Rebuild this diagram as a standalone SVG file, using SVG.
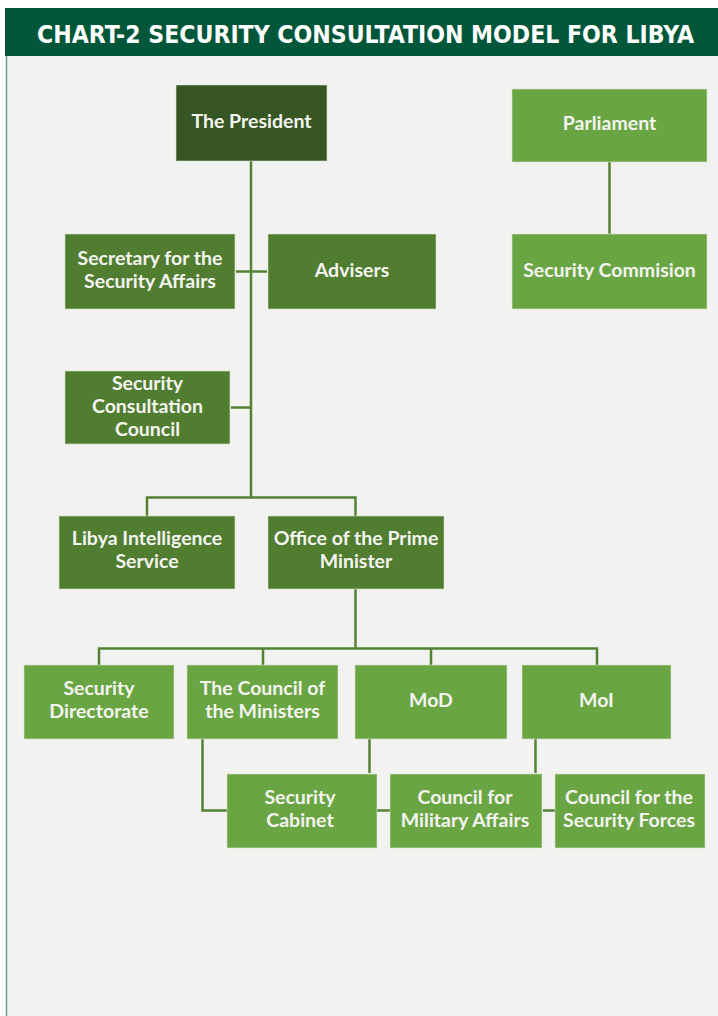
<svg xmlns="http://www.w3.org/2000/svg" width="718" height="1016" viewBox="0 0 718 1016">
<style>
.n rect{stroke:#d9e6d0;stroke-width:1;stroke-opacity:0.6}
.d{fill:#375623}
.m{fill:#517d31}
.l{fill:#6aa543}
.t{font-family:Lato,"Open Sans",sans-serif;font-weight:bold;font-size:19.5px;fill:#f4f4f0;text-anchor:middle}
#connectors{stroke:#548235;stroke-width:2.5;fill:none}
</style>
<rect x="0" y="0" width="718" height="1016" fill="#ffffff"/>
<rect x="7" y="8" width="711" height="1008" fill="#f2f2f0"/>
<line x1="6.5" y1="8" x2="6.5" y2="1016" stroke="#6e9c88" stroke-width="1.5"/>
<g id="header">
<rect x="5" y="8" width="713" height="48" fill="#02573a"/>
<text x="365.5" y="43" font-family="'DejaVu Sans Condensed','DejaVu Sans',sans-serif" font-weight="bold" font-size="24" fill="#ffffff" text-anchor="middle" textLength="657" lengthAdjust="spacingAndGlyphs">CHART-2 SECURITY CONSULTATION MODEL FOR LIBYA</text>
</g>
<g id="connectors">
<path d="M251 161V497.5"/>
<path d="M236 271.5H267"/>
<path d="M231 407.5H251"/>
<path d="M147 516V497.5H355.5V516"/>
<path d="M609.5 162V234"/>
<path d="M355.5 589V648.5"/>
<path d="M99 665V648.5H597V665"/>
<path d="M263 648.5V665"/>
<path d="M431 648.5V665"/>
<path d="M202.5 739V810.5H227"/>
<path d="M369.5 739V773"/>
<path d="M535.5 739V773"/>
<path d="M377 810.5H390"/>
<path d="M543 810.5H555"/>
</g>
<g id="president" class="n"><rect class="d" x="176" y="85" width="151" height="76"/><text class="t" x="251.5" y="128">The President</text></g>
<g id="parliament" class="n"><rect class="l" x="512" y="89" width="195" height="73"/><text class="t" x="609.5" y="130">Parliament</text></g>
<g id="secretary" class="n"><rect class="m" x="65" y="234" width="170" height="75"/><text class="t" x="150" y="265">Secretary for the</text><text class="t" x="150" y="288">Security Affairs</text></g>
<g id="advisers" class="n"><rect class="m" x="268" y="234" width="168" height="75"/><text class="t" x="352" y="277">Advisers</text></g>
<g id="security-commision" class="n"><rect class="l" x="512" y="234" width="195" height="75"/><text class="t" x="609.5" y="277">Security Commision</text></g>
<g id="scc" class="n"><rect class="m" x="65" y="371" width="165" height="73"/><text class="t" x="147.5" y="390">Security</text><text class="t" x="147.5" y="413">Consultation</text><text class="t" x="147.5" y="436">Council</text></g>
<g id="lis" class="n"><rect class="m" x="59" y="516" width="176" height="73"/><text class="t" x="147" y="545">Libya Intelligence</text><text class="t" x="147" y="568">Service</text></g>
<g id="pm-office" class="n"><rect class="m" x="268" y="516" width="176" height="73"/><text class="t" x="356" y="545">Office of the Prime</text><text class="t" x="356" y="568">Minister</text></g>
<g id="security-directorate" class="n"><rect class="l" x="24" y="665" width="150" height="74"/><text class="t" x="99" y="695">Security</text><text class="t" x="99" y="718">Directorate</text></g>
<g id="council-ministers" class="n"><rect class="l" x="187" y="665" width="151" height="74"/><text class="t" x="262.5" y="695">The Council of</text><text class="t" x="262.5" y="718">the Ministers</text></g>
<g id="mod" class="n"><rect class="l" x="355" y="665" width="152" height="74"/><text class="t" x="431" y="707">MoD</text></g>
<g id="moi" class="n"><rect class="l" x="522" y="665" width="149" height="74"/><text class="t" x="596.5" y="707">MoI</text></g>
<g id="security-cabinet" class="n"><rect class="l" x="227" y="774" width="150" height="74"/><text class="t" x="300" y="804">Security</text><text class="t" x="300" y="827">Cabinet</text></g>
<g id="council-military" class="n"><rect class="l" x="390" y="774" width="152" height="74"/><text class="t" x="465" y="804">Council for</text><text class="t" x="465" y="827">Military Affairs</text></g>
<g id="council-security-forces" class="n"><rect class="l" x="555" y="774" width="150" height="74"/><text class="t" x="629" y="804">Council for the</text><text class="t" x="629" y="827">Security Forces</text></g>
</svg>
